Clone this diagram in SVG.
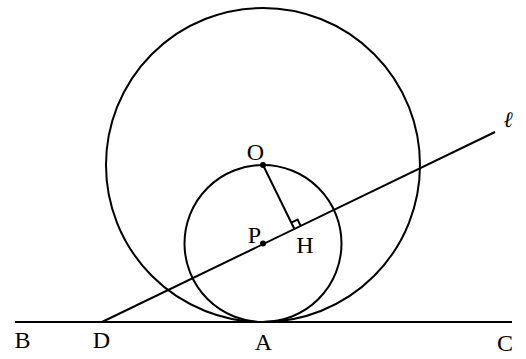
<svg xmlns="http://www.w3.org/2000/svg" width="526" height="359" viewBox="0 0 526 359">
<style>
.c{fill:none;stroke:#000;stroke-width:2}
.l{fill:none;stroke:#000;stroke-width:2}
.t{font-family:"Liberation Serif","Times New Roman",serif;font-size:24px;fill:#000;text-anchor:middle}
.s{font-family:"DejaVu Serif",serif;font-style:italic;font-size:22px;fill:#000;text-anchor:middle}
.d{fill:#000}
</style>
<rect width="526" height="359" fill="#fff"/>
<g id="connectors">
<line class="l" x1="15" y1="322" x2="512" y2="322"/>
<line class="l" x1="102" y1="322" x2="495" y2="132"/>
<line class="l" x1="263" y1="165" x2="294.4" y2="229"/>
<polyline class="l" stroke-width="1.5" points="291.3,222.7 297.6,219.6 300.7,225.9"/>
</g>
<g id="bigCircle"><circle class="c" cx="263" cy="165" r="157"/></g>
<g id="smallCircle"><circle class="c" cx="263" cy="243.5" r="78.5"/></g>
<g id="O"><circle class="d" cx="263" cy="165" r="3"/><text class="t" x="255.5" y="160">O</text></g>
<g id="P"><circle class="d" cx="263" cy="243.5" r="3"/><text class="t" x="254.5" y="243">P</text></g>
<g id="H"><text class="t" x="305" y="253">H</text></g>
<g id="B"><text class="t" x="22.5" y="348">B</text></g>
<g id="D"><text class="t" x="101.5" y="348">D</text></g>
<g id="A"><text class="t" x="263.5" y="350">A</text></g>
<g id="C"><text class="t" x="505" y="351">C</text></g>
<g id="ell"><text class="s" x="508" y="127">ℓ</text></g>
</svg>
